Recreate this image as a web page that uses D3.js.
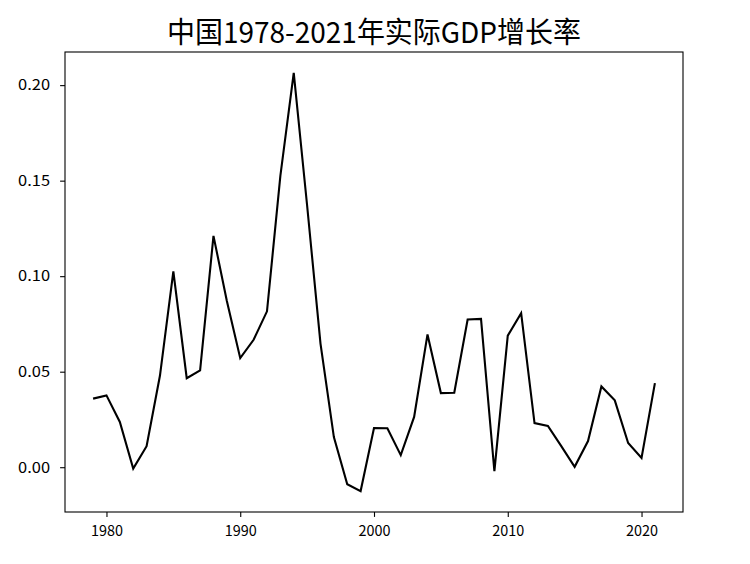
<!DOCTYPE html>
<html lang="zh">
<head>
  <meta charset="UTF-8" />
  <title>中国1978-2021年实际GDP增长率</title>
  <style>
    body { margin: 0; background: #ffffff; }
    svg { display: block; }
    .tick text { font-family: "Noto Sans CJK SC", "DejaVu Sans", sans-serif; font-size: 15px; fill: #000; }
    .title { font-family: "Noto Sans CJK SC", sans-serif; font-size: 29px; fill: #000; }
  </style>
  <script src="https://d3js.org/d3.v7.min.js"></script>
</head>
<body>
  <svg id="canvas" width="750" height="564"></svg>
  <script>
    const years = d3.range(1979, 2022);
    const growth = [
      0.0359, 0.0376, 0.0237, -0.0007, 0.011, 0.048, 0.1025, 0.0466, 0.0507, 0.1211,
      0.087, 0.0571, 0.0667, 0.0816, 0.1525, 0.2064, 0.137, 0.0647, 0.0158, -0.0089,
      -0.0125, 0.0205, 0.0204, 0.0063, 0.0263, 0.0695, 0.0388, 0.039, 0.0773, 0.0776,
      -0.0021, 0.0689, 0.0806, 0.0231, 0.0216, 0.011, 0.0002, 0.0137, 0.0423, 0.035,
      0.0127, 0.0049, 0.044
    ];
    const xTicks = [1980, 1990, 2000, 2010, 2020];
    const yTicks = [0.00, 0.05, 0.10, 0.15, 0.20];
    const title = "中国1978-2021年实际GDP增长率";

    const svg = d3.select("#canvas");
    const plotLeft = 65, plotRight = 683, plotTop = 52, plotBottom = 512;

    // matplotlib style 5% margins
    const xPad = (d3.max(years) - d3.min(years)) * 0.05;
    const yExt = d3.extent(growth);
    const yPad = (yExt[1] - yExt[0]) * 0.05;

    const x = d3.scaleLinear()
      .domain([d3.min(years) - xPad, d3.max(years) + xPad])
      .range([plotLeft, plotRight]);
    const y = d3.scaleLinear()
      .domain([yExt[0] - yPad, yExt[1] + yPad])
      .range([plotBottom, plotTop]);

    const line = d3.line()
      .x((d, i) => x(years[i]))
      .y(d => y(d));

    svg.append("path")
      .datum(growth)
      .attr("d", line)
      .attr("fill", "none")
      .attr("stroke", "#000")
      .attr("stroke-width", 2.1)
      .attr("stroke-linejoin", "miter");

    const xAxis = svg.append("g")
      .attr("transform", `translate(0,${plotBottom})`)
      .call(d3.axisBottom(x).tickValues(xTicks).tickFormat(d3.format("d")).tickSize(4.9).tickPadding(8));
    const yAxis = svg.append("g")
      .attr("transform", `translate(${plotLeft},0)`)
      .call(d3.axisLeft(y).tickValues(yTicks).tickFormat(d3.format(".2f")).tickSize(4.9).tickPadding(10));

    [xAxis, yAxis].forEach(g => {
      g.select(".domain").remove();
      g.selectAll(".tick line").attr("stroke", "#000").attr("stroke-width", 1.1);
      g.selectAll(".tick text")
        .attr("textLength", 32)
        .attr("lengthAdjust", "spacingAndGlyphs");
    });

    // frame
    svg.append("rect")
      .attr("x", plotLeft).attr("y", plotTop)
      .attr("width", plotRight - plotLeft).attr("height", plotBottom - plotTop)
      .attr("fill", "none")
      .attr("stroke", "#000")
      .attr("stroke-width", 1.1);

    svg.append("text")
      .attr("class", "title")
      .attr("x", (plotLeft + plotRight) / 2)
      .attr("y", 43)
      .attr("text-anchor", "middle")
      .attr("textLength", 414)
      .attr("lengthAdjust", "spacingAndGlyphs")
      .text(title);
  </script>
</body>
</html>
